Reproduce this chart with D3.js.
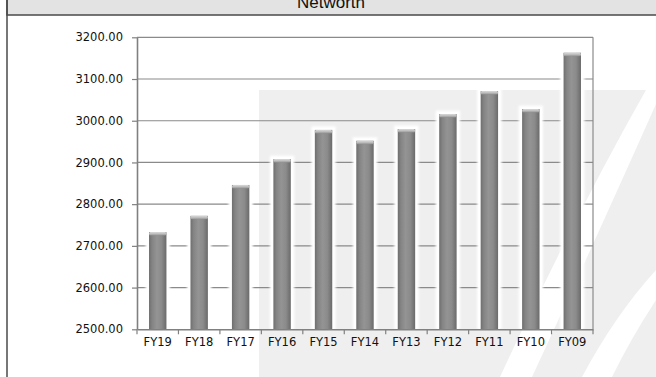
<!DOCTYPE html>
<html>
<head>
<meta charset="utf-8">
<script src="https://cdn.jsdelivr.net/npm/d3@7/dist/d3.min.js"></script>
<style>
  html, body { margin: 0; padding: 0; background: #ffffff; overflow: hidden; }
  svg { display: block; }
  text { font-family: "DejaVu Sans", Verdana, sans-serif; }
</style>
</head>
<body>
<svg id="chart" width="656" height="377"></svg>
<script>
// Networth by financial year (most recent first)
const title = "Networth";
const categories = ["FY19", "FY18", "FY17", "FY16", "FY15", "FY14", "FY13", "FY12", "FY11", "FY10", "FY09"];
const networth = [2733, 2772, 2846, 2908, 2978, 2952, 2980, 3016, 3071, 3028, 3163];
const yTicks = [2500, 2600, 2700, 2800, 2900, 3000, 3100, 3200];

const W = 656, H = 377;
const plot = { left: 137, right: 593, top: 37.3, bottom: 329.3 };

const svg = d3.select("#chart");
const defs = svg.append("defs");

// cylinder-like shading across each bar
const barGrad = defs.append("linearGradient").attr("id", "barGrad")
  .attr("x1", "0").attr("x2", "1").attr("y1", "0").attr("y2", "0");
[[0, "#6e6e6e"], [0.18, "#848484"], [0.45, "#949494"], [0.72, "#8b8b8b"], [1, "#6a6a6a"]]
  .forEach(([o, c]) => barGrad.append("stop").attr("offset", o).attr("stop-color", c));

// light rim on the top of each bar
const capGrad = defs.append("linearGradient").attr("id", "capGrad")
  .attr("x1", "0").attr("x2", "0").attr("y1", "0").attr("y2", "1");
[[0, "#d8d8d8"], [0.5, "#bdbdbd"], [1, "#909090"]]
  .forEach(([o, c]) => capGrad.append("stop").attr("offset", o).attr("stop-color", c));

const glow = defs.append("filter").attr("id", "glow")
  .attr("x", "-50%").attr("y", "-10%").attr("width", "200%").attr("height", "120%");
glow.append("feGaussianBlur").attr("stdDeviation", 1.2);

// background watermark: pale panel with diagonal light sweeps
const wm = svg.append("g").attr("class", "watermark");
wm.append("rect").attr("x", 259).attr("y", 90).attr("width", W - 259).attr("height", H - 90)
  .attr("fill", "#efefef");
wm.append("path").attr("fill", "#ffffff")
  .attr("d", "M646,90 L656,90 L656,104 Q600,230 532,377 L500,377 Q575,215 646,90 Z");
wm.append("path").attr("fill", "#ffffff")
  .attr("d", "M656,270 L656,300 Q630,340 612,377 L582,377 Q615,315 656,270 Z");

// scales
const x = d3.scaleBand().domain(categories).range([plot.left, plot.right])
  .paddingInner(0.58).paddingOuter(0.29);
const y = d3.scaleLinear().domain([2500, 3200]).range([plot.bottom, plot.top]);

// gridlines
svg.append("g").selectAll("line").data(yTicks.filter(v => v > 2500)).join("line")
  .attr("x1", plot.left).attr("x2", plot.right)
  .attr("y1", d => y(d)).attr("y2", d => y(d))
  .attr("stroke", "#8a8a8a").attr("stroke-width", 1.2);

// right border of the plot area
svg.append("line").attr("x1", plot.right).attr("x2", plot.right)
  .attr("y1", plot.top).attr("y2", plot.bottom)
  .attr("stroke", "#8a8a8a").attr("stroke-width", 1.2);

// bars with a soft white halo
const bars = svg.append("g").selectAll("g").data(categories.map((c, i) => ({ c, v: networth[i] })))
  .join("g");
bars.append("rect")
  .attr("x", d => x(d.c) - 3.5).attr("y", d => y(d.v) - 3.5)
  .attr("width", x.bandwidth() + 7).attr("height", d => plot.bottom - y(d.v) + 3.5)
  .attr("fill", "#ffffff").attr("filter", "url(#glow)");
bars.append("rect")
  .attr("x", d => x(d.c) - 2).attr("y", d => y(d.v) - 2)
  .attr("width", x.bandwidth() + 4).attr("height", d => plot.bottom - y(d.v) + 2)
  .attr("fill", "#ffffff");
bars.append("rect")
  .attr("x", d => x(d.c)).attr("y", d => y(d.v))
  .attr("width", x.bandwidth()).attr("height", d => plot.bottom - y(d.v))
  .attr("fill", "url(#barGrad)");
bars.append("rect")
  .attr("x", d => x(d.c)).attr("y", d => y(d.v))
  .attr("width", x.bandwidth()).attr("height", 3.5)
  .attr("rx", 1.5)
  .attr("fill", "url(#capGrad)");

// y axis
const yAxis = svg.append("g").attr("transform", `translate(${plot.left},0)`)
  .call(d3.axisLeft(y).tickValues(yTicks).tickFormat(d3.format(".2f"))
    .tickSize(5).tickSizeOuter(0).tickPadding(9));
yAxis.select(".domain").attr("stroke", "#808080").attr("stroke-width", 1.6);
yAxis.selectAll(".tick line").attr("stroke", "#808080").attr("stroke-width", 1.2);
yAxis.selectAll(".tick text").attr("fill", "#111").style("font-size", "11.5px")
  .attr("font-family", "DejaVu Sans, sans-serif");

// x axis: labels at band centres, tick marks at band boundaries
const xAxis = svg.append("g").attr("transform", `translate(0,${plot.bottom})`)
  .call(d3.axisBottom(x).tickSize(0).tickSizeOuter(0).tickPadding(9));
xAxis.select(".domain").attr("stroke", "#808080").attr("stroke-width", 1.6);
xAxis.selectAll(".tick text").attr("fill", "#111").style("font-size", "11.5px")
  .attr("font-family", "DejaVu Sans, sans-serif");
const bounds = categories.map((c, i) => x.range()[0] + i * x.step());
bounds.push(x.range()[1]);
xAxis.selectAll("line.bound").data(bounds).join("line").attr("class", "bound")
  .attr("x1", d => d).attr("x2", d => d).attr("y1", 0).attr("y2", 5)
  .attr("stroke", "#808080").attr("stroke-width", 1.2);

// outer frame and title bar
svg.append("rect").attr("x", 7).attr("y", -1).attr("width", W).attr("height", 16)
  .attr("fill", "#e3e3e3").attr("stroke", "#4a4a4a").attr("stroke-width", 1.5);
svg.append("line").attr("x1", 7).attr("x2", 7).attr("y1", 0).attr("y2", H)
  .attr("stroke", "#4a4a4a").attr("stroke-width", 1.5);
svg.append("text").attr("x", 331).attr("y", 7.5).attr("text-anchor", "middle")
  .style("font-family", "Liberation Sans, Arial, sans-serif").style("font-size", "17px")
  .attr("fill", "#111").text(title);
</script>
</body>
</html>
